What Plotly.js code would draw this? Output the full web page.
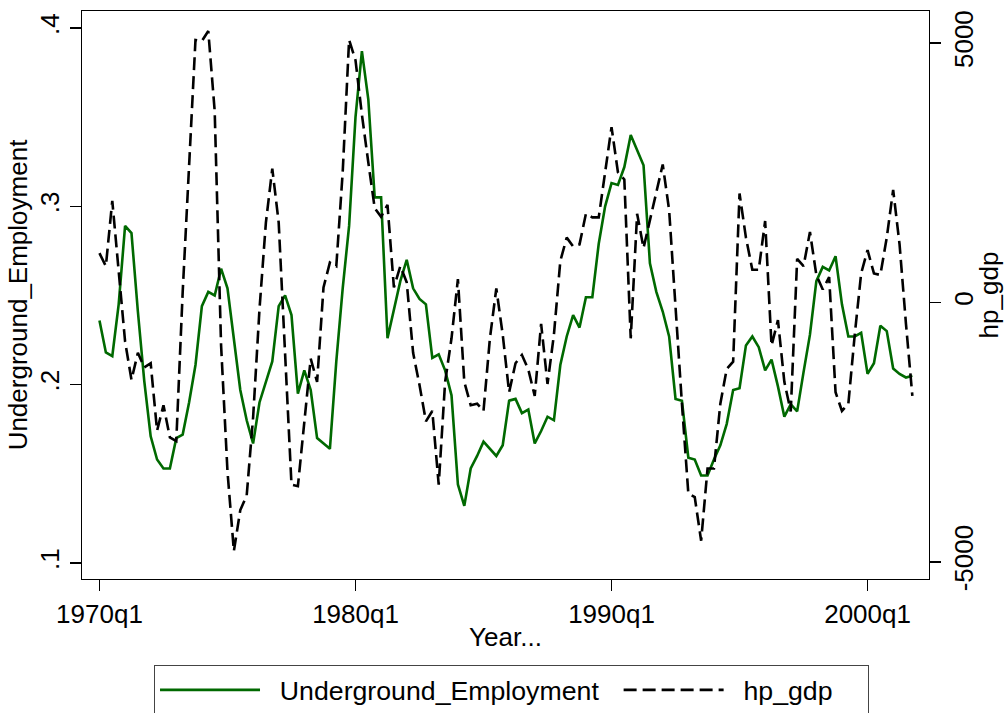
<!DOCTYPE html>
<html><head><meta charset="utf-8">
<script src="https://cdn.plot.ly/plotly-3.0.1.min.js"></script>
<style>html,body{margin:0;padding:0;background:#fff}#chart{width:1004px;height:713px}</style>
</head><body><div id="chart"></div>
<script>
// Quarter categories 1970q1 .. 2001q4
const quarters = [];
for (let y = 1970; y <= 2001; y++) { for (let q = 1; q <= 4; q++) { quarters.push(y + 'q' + q); } }

const undergroundEmployment = [
  0.236,0.218,0.216,0.245,0.289,0.285,0.241,0.202,
  0.171,0.158,0.153,0.153,0.170,0.172,0.190,0.211,
  0.244,0.252,0.250,0.265,0.254,0.224,0.197,0.180,
  0.167,0.190,0.201,0.213,0.244,0.250,0.239,0.195,
  0.208,0.197,0.170,0.167,0.164,0.213,0.254,0.289,
  0.350,0.387,0.360,0.305,0.305,0.226,0.243,0.258,
  0.270,0.254,0.248,0.245,0.215,0.217,0.208,0.194,
  0.144,0.132,0.153,0.160,0.168,0.164,0.160,0.166,
  0.191,0.192,0.184,0.186,0.167,0.174,0.182,0.180,
  0.211,0.227,0.239,0.232,0.249,0.249,0.279,0.300,
  0.313,0.312,0.322,0.340,0.331,0.323,0.268,0.252,
  0.241,0.227,0.192,0.191,0.159,0.158,0.149,0.149,
  0.158,0.166,0.178,0.197,0.198,0.222,0.227,0.221,
  0.208,0.214,0.199,0.182,0.189,0.185,0.207,0.228,
  0.258,0.266,0.264,0.272,0.245,0.227,0.227,0.229,
  0.206,0.212,0.233,0.230,0.209,0.206,0.204,0.205
];

const hpGdp = [
  950,700,1960,560,-750,-1490,-970,-1250,
  -1170,-2470,-1980,-2600,-2670,200,2700,5060,
  5040,5230,3690,-830,-3260,-4790,-4000,-3720,
  -2220,-130,1540,2580,1540,-1110,-3510,-3540,
  -2290,-1080,-1530,290,770,700,2510,5060,
  4670,3620,2700,1820,1650,1880,290,700,
  390,-970,-1590,-2290,-2090,-3510,-1530,-690,
  450,-1530,-1980,-1950,-2090,-690,270,-620,
  -1730,-1170,-1010,-1290,-1800,-410,-1570,-620,
  800,1250,1080,1120,1710,1640,1640,2510,
  3380,2510,2370,-690,1710,1050,1570,2100,
  2660,1780,-200,-1950,-3680,-3750,-4590,-3200,
  -3200,-1950,-1280,-1140,2100,1250,630,630,
  1570,-830,-340,-1530,-2100,840,700,1360,
  530,250,490,-1730,-2090,-1950,-620,560,
  1010,560,530,1250,2170,1120,-410,-1800
];

const xTickLabels = ['1970q1','1980q1','1990q1','2000q1'];
const leftTickVals = [0.1, 0.2, 0.3, 0.4];
const leftTickText = ['.1', '.2', '.3', '.4'];
const rightTickVals = [-5000, 0, 5000];
const rightTickText = ['-5000', '0', '5000'];

const FONT = 'Liberation Sans, Arial, Helvetica, sans-serif';
const NB = '\u00A0';

const traces = [
  {
    x: quarters, y: undergroundEmployment,
    name: NB + NB + 'Underground_Employment' + NB + NB,
    type: 'scatter', mode: 'lines', yaxis: 'y',
    line: {color: 'rgb(0,105,0)', width: 2.6}
  },
  {
    x: quarters, y: hpGdp,
    name: NB + NB + 'hp_gdp' + NB + NB + NB + NB,
    type: 'scatter', mode: 'lines', yaxis: 'y2',
    line: {color: '#000', width: 2.6, dash: '13px,6px'}
  }
];

const axisCommon = {
  showgrid: false, zeroline: false, showline: true, linecolor: '#000', linewidth: 1.3,
  ticks: 'outside', ticklen: 11, tickwidth: 1.3, tickcolor: '#000',
  tickfont: {family: FONT, size: 26, color: '#000'}
};

const layout = {
  width: 1004, height: 713,
  paper_bgcolor: '#fff', plot_bgcolor: '#fff',
  margin: {l: 82, r: 75, t: 11, b: 134, pad: 0, autoexpand: false},
  font: {family: FONT, size: 26, color: '#000'},
  showlegend: true,
  xaxis: Object.assign({}, axisCommon, {
    type: 'category', categoryorder: 'array', categoryarray: quarters,
    range: [-2.73, 129.6], tickvals: xTickLabels, ticktext: xTickLabels,
    mirror: true, automargin: false,
    title: {text: 'Year...', font: {family: FONT, size: 26}, standoff: 0}
  }),
  yaxis: Object.assign({}, axisCommon, {
    range: [0.0910, 0.4095], tickvals: leftTickVals, ticktext: leftTickText,
    tickangle: -90, automargin: false,
    title: {text: 'Underground_Employment', font: {family: FONT, size: 26}, standoff: 0}
  }),
  yaxis2: Object.assign({}, axisCommon, {
    overlaying: 'y', side: 'right', automargin: false,
    range: [-5328, 5617], tickvals: rightTickVals, ticktext: rightTickText,
    tickangle: -90,
    title: {text: 'hp_gdp', font: {family: FONT, size: 26}, standoff: 3}
  }),
  legend: {
    orientation: 'h', x: 0.5071, xanchor: 'center', y: -0.1514, yanchor: 'top',
    bordercolor: '#444', borderwidth: 1, bgcolor: '#fff',
    font: {family: FONT, size: 26.7, color: '#000'},
    itemwidth: 100, traceorder: 'normal'
  }
};

Plotly.newPlot('chart', traces, layout, {staticPlot: true, displayModeBar: false});
</script>
</body></html>
